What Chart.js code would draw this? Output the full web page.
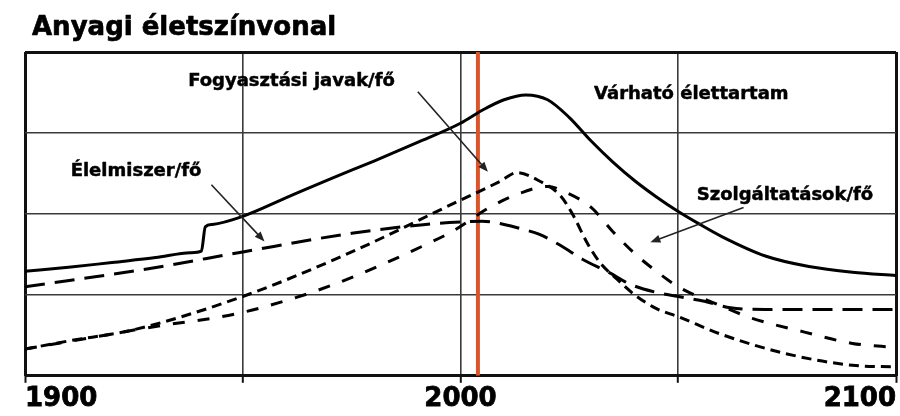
<!DOCTYPE html>
<html>
<head>
<meta charset="utf-8">
<script src="https://cdn.jsdelivr.net/npm/chart.js@4.4.1/dist/chart.umd.min.js"></script>
<style>
  html, body { margin: 0; padding: 0; background: #ffffff; }
  #wrap { width: 900px; height: 416px; position: relative; }
</style>
</head>
<body>
<div id="wrap"><canvas id="c" width="900" height="416"></canvas></div>
<script>
// ---- data ----
const chartTitle = 'Anyagi életszínvonal';

const lifeYears  = [1900,1910,1920,1930,1938,1940.5,1941.4,1943,1950,1960,1970,1980,1990,2000,2005,2010,2015,2020,2025,2030,2035,2040,2045,2050,2055,2060,2070,2080,2090,2100];
const lifeValues = [1.29,1.34,1.40,1.46,1.52,1.54,1.84,1.87,1.97,2.20,2.43,2.65,2.88,3.12,3.28,3.41,3.47,3.41,3.19,2.90,2.64,2.41,2.21,2.03,1.87,1.72,1.48,1.35,1.28,1.24];

const foodYears  = [1900,1928,1950,1975,1992,2000,2005,2010,2015,2018,2023,2028,2034,2039,2045,2050,2056,2062,2070,2085,2100];
const foodValues = [1.10,1.32,1.53,1.76,1.87,1.90,1.91,1.87,1.80,1.75,1.61,1.44,1.28,1.13,1.03,0.98,0.92,0.84,0.82,0.82,0.82];

const goodsYears  = [1900,1910,1925,1950,1975,2000,2004,2009,2013,2018,2023,2026,2029,2032,2036,2040,2045,2050,2060,2075,2090,2100];
const goodsValues = [0.33,0.43,0.57,0.98,1.53,2.17,2.27,2.40,2.51,2.41,2.22,1.97,1.65,1.40,1.19,1.00,0.83,0.73,0.51,0.27,0.13,0.11];

const servYears  = [1900,1915,1930,1948,1960,1970,1981,1992,1998,2007,2013,2020,2024,2030,2035,2040,2045,2050,2060,2067,2079,2090,2100];
const servValues = [0.33,0.47,0.61,0.76,0.93,1.11,1.35,1.62,1.78,2.09,2.24,2.34,2.27,2.08,1.78,1.51,1.29,1.10,0.86,0.71,0.54,0.40,0.35];

const markerYear = 2004;             // red vertical line
const tickLabelYears = [1900, 2000, 2100];

// annotation labels: text, anchor year, anchor value
const labelTexts  = ['Fogyasztási javak/fő', 'Élelmiszer/fő', 'Várható élettartam', 'Szolgáltatások/fő'];
const labelYears  = [1961.2, 1925.5, 2053.0, 2074.5];
const labelValues = [3.64, 2.52, 3.48, 2.23];

// arrows: from (year,value) to (year,value)
const arrowFromYears  = [1990.2, 1942.8, 2065.0];
const arrowFromValues = [3.51, 2.36, 2.08];
const arrowToYears    = [2006.3, 1955.0, 2043.6];
const arrowToValues   = [2.52, 1.66, 1.65];

// ---- build ----
const pts = (xs, ys) => xs.map((x, i) => ({ x: x, y: ys[i] }));
const FONT = '"DejaVu Sans", "Liberation Sans", Arial, sans-serif';

const annotate = {
  id: 'annotate',
  afterDatasetsDraw(chart) {
    const { ctx, scales: { x, y }, chartArea } = chart;
    ctx.save();
    // title
    ctx.fillStyle = '#000';
    ctx.strokeStyle = '#000';
    ctx.lineJoin = 'round';
    ctx.font = 'bold 26px ' + FONT;
    ctx.textAlign = 'left';
    ctx.textBaseline = 'alphabetic';
    ctx.lineWidth = 0.7;
    ctx.strokeText(chartTitle, chartArea.left + 7, chartArea.top - 17);
    ctx.fillText(chartTitle, chartArea.left + 7, chartArea.top - 17);

    // arrows
    ctx.strokeStyle = '#222';
    ctx.fillStyle = '#222';
    ctx.lineWidth = 1.6;
    for (let i = 0; i < arrowFromYears.length; i++) {
      const x1 = x.getPixelForValue(arrowFromYears[i]);
      const y1 = y.getPixelForValue(arrowFromValues[i]);
      const x2 = x.getPixelForValue(arrowToYears[i]);
      const y2 = y.getPixelForValue(arrowToValues[i]);
      const a = Math.atan2(y2 - y1, x2 - x1);
      const hl = 10, hw = 4;
      ctx.beginPath();
      ctx.moveTo(x1, y1);
      ctx.lineTo(x2 - Math.cos(a) * hl * 0.8, y2 - Math.sin(a) * hl * 0.8);
      ctx.stroke();
      ctx.beginPath();
      ctx.moveTo(x2, y2);
      ctx.lineTo(x2 - Math.cos(a) * hl + Math.sin(a) * hw, y2 - Math.sin(a) * hl - Math.cos(a) * hw);
      ctx.lineTo(x2 - Math.cos(a) * hl - Math.sin(a) * hw, y2 - Math.sin(a) * hl + Math.cos(a) * hw);
      ctx.closePath();
      ctx.fill();
    }

    // labels
    ctx.fillStyle = '#000';
    ctx.strokeStyle = '#000';
    ctx.lineWidth = 0.5;
    ctx.font = 'bold 18px ' + FONT;
    ctx.textAlign = 'center';
    ctx.textBaseline = 'middle';
    for (let i = 0; i < labelTexts.length; i++) {
      const px = x.getPixelForValue(labelYears[i]);
      const py = y.getPixelForValue(labelValues[i]);
      ctx.strokeText(labelTexts[i], px, py);
      ctx.fillText(labelTexts[i], px, py);
    }
    ctx.restore();
  }
};

const edgeWidth = (ctx, lo, hi) => {
  const v = ctx.tick ? ctx.tick.value : null;
  return (v === lo || v === hi) ? 3 : 1.6;
};
const edgeColor = (ctx, lo, hi) => {
  const v = ctx.tick ? ctx.tick.value : null;
  return (v === lo || v === hi) ? '#111' : '#3a3a3a';
};

new Chart(document.getElementById('c'), {
  type: 'line',
  data: {
    datasets: [
      {
        label: 'Várható élettartam',
        data: pts(lifeYears, lifeValues),
        borderColor: '#000', borderWidth: 3, pointRadius: 0,
        cubicInterpolationMode: 'monotone', order: 1
      },
      {
        label: 'Élelmiszer/fő',
        data: pts(foodYears, foodValues),
        borderColor: '#000', borderWidth: 3, borderDash: [20, 10], pointRadius: 0,
        cubicInterpolationMode: 'monotone', order: 1
      },
      {
        label: 'Fogyasztási javak/fő',
        data: pts(goodsYears, goodsValues),
        borderColor: '#000', borderWidth: 3, borderDash: [10, 6], pointRadius: 0,
        cubicInterpolationMode: 'monotone', order: 1
      },
      {
        label: 'Szolgáltatások/fő',
        data: pts(servYears, servValues),
        borderColor: '#000', borderWidth: 3, borderDash: [12, 13], pointRadius: 0,
        cubicInterpolationMode: 'monotone', order: 1
      },
      {
        label: 'marker',
        data: [{ x: markerYear, y: 0 }, { x: markerYear, y: 4 }],
        borderColor: '#d9552b', borderWidth: 4, pointRadius: 0, order: 2
      }
    ]
  },
  options: {
    responsive: false,
    animation: false,
    layout: { padding: { top: 52, left: 25, right: 4, bottom: 0 } },
    plugins: {
      legend: { display: false },
      tooltip: { enabled: false },
      title: { display: false }
    },
    scales: {
      x: {
        type: 'linear', min: 1900, max: 2100,
        border: { display: false },
        grid: {
          color: (c) => edgeColor(c, 1900, 2100),
          lineWidth: (c) => edgeWidth(c, 1900, 2100),
          tickLength: 7, tickColor: '#111', tickWidth: 2
        },
        ticks: {
          stepSize: 50, align: 'inner', maxRotation: 0, autoSkip: false,
          padding: 1, color: '#000',
          textStrokeColor: '#000', textStrokeWidth: 0.8,
          font: { family: FONT, size: 26, weight: 'bold' },
          callback: (v) => tickLabelYears.includes(v) ? String(v) : ''
        }
      },
      y: {
        min: 0, max: 4,
        border: { display: false },
        grid: {
          color: (c) => edgeColor(c, 0, 4),
          lineWidth: (c) => edgeWidth(c, 0, 4),
          drawTicks: false
        },
        ticks: { stepSize: 1, display: false }
      }
    }
  },
  plugins: [annotate]
});
</script>
</body>
</html>
